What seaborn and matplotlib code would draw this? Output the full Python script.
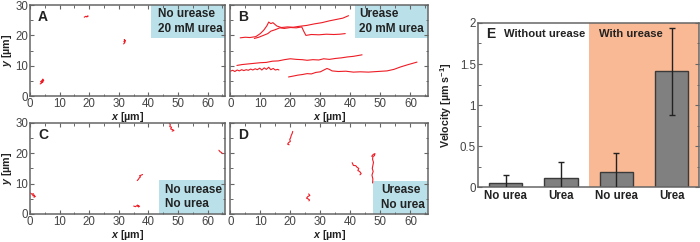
import matplotlib
matplotlib.use("Agg")
import matplotlib.pyplot as plt
from matplotlib.patches import Rectangle
from matplotlib.ticker import MultipleLocator
import seaborn as sns

# trajectories (x, y in um)
A_TRACKS = [
    ([3.4, 3.9, 3.6, 4.2, 3.8, 4.4, 4.1, 4.6, 4.3], [4.0, 4.3, 4.8, 4.5, 5.0, 4.7, 5.3, 5.1, 5.6]),
    ([18.3, 18.8, 19.2, 19.6, 19.1], [26.0, 26.3, 26.1, 26.4, 26.2]),
    ([31.6, 32.0, 31.7, 32.2, 31.8, 32.1], [17.2, 17.6, 18.0, 18.3, 18.6, 17.9]),
]
B_TRACKS = [
    ([3.3, 5.0, 6.5, 8.5, 10.0, 11.2, 12.2, 12.8, 13.5, 14.2, 15.5, 17.0, 19.0, 21.0, 23.0,
      25.5, 28.0, 30.5, 33.0, 35.5, 37.5, 39.4],
     [19.2, 19.4, 19.3, 19.6, 20.6, 21.8, 23.2, 24.4, 23.9, 24.2, 23.1, 22.6, 22.8, 22.7, 23.0,
      23.3, 23.8, 24.2, 24.8, 25.3, 25.7, 26.5]),
    ([8.0, 9.5, 11.0, 12.5, 13.5, 15.0, 16.5, 18.0, 20.0, 22.0, 23.8, 24.5, 25.2, 27.0, 29.5,
      32.0, 34.5, 36.5, 38.3],
     [19.0, 19.4, 20.0, 20.6, 21.4, 21.9, 22.5, 22.3, 22.6, 22.5, 22.8, 21.3, 20.0, 20.3, 20.2,
      20.4, 20.3, 20.4, 20.6]),
    ([2.2, 4.0, 6.0, 8.0, 10.0, 12.0, 14.0, 16.0, 18.0, 20.0, 22.0, 24.0, 25.6, 27.5, 29.5,
      31.1, 33.0, 35.0, 37.0, 39.0, 41.0, 43.9],
     [10.1, 10.4, 10.6, 10.8, 11.0, 11.1, 11.5, 11.6, 12.0, 12.3, 12.1, 12.0, 11.8, 12.0, 11.9,
      12.3, 12.1, 12.4, 12.6, 12.9, 13.1, 13.6]),
    ([0.0, 0.8, 1.5, 2.3, 3.0, 3.8, 4.5, 5.3, 6.0, 6.8, 7.5, 8.3, 9.0, 9.8, 10.5, 11.3, 12.0,
      12.8, 13.5, 14.3, 15.0, 15.8, 16.2],
     [8.2, 8.5, 8.1, 8.6, 8.3, 8.7, 8.4, 8.7, 8.5, 8.9, 8.6, 9.0, 8.7, 9.2, 8.6, 9.3, 8.8,
      9.5, 8.7, 9.1, 8.6, 8.8, 8.6]),
    ([19.4, 21.0, 22.5, 24.0, 25.6, 27.0, 28.5, 30.0, 31.2, 32.2, 33.0, 33.9, 36.0, 38.5, 41.0,
      43.3, 46.0, 49.0, 52.2, 54.5, 56.7, 59.0, 62.2],
     [6.3, 6.6, 6.9, 7.1, 7.4, 7.3, 7.8, 8.0, 8.6, 9.1, 8.8, 8.3, 8.1, 8.2, 7.9, 8.0, 7.9,
      8.1, 8.3, 8.8, 9.6, 10.3, 11.2]),
]
C_TRACKS = [
    ([0.1, 0.6, 1.1, 0.9, 1.5, 1.3, 1.8], [6.9, 6.5, 6.7, 6.0, 6.2, 5.5, 5.8]),
    ([36.2, 36.6, 36.9, 37.3, 37.0, 37.6, 38.0], [11.0, 11.4, 11.9, 12.2, 12.6, 12.8, 13.0]),
    ([35.0, 35.6, 36.2, 36.7, 36.3, 37.0], [2.6, 2.4, 2.8, 2.3, 2.9, 2.5]),
    ([47.0, 47.4, 47.2, 47.8, 47.5, 48.2, 48.6, 48.0], [30.0, 29.4, 28.8, 28.6, 28.0, 27.8, 27.5, 27.3]),
    ([63.8, 64.2, 64.6, 65.0], [21.0, 20.5, 20.3, 19.9]),
]
D_TRACKS = [
    ([20.8, 20.6, 20.3, 20.1, 19.8, 20.0, 19.4, 19.1, 19.6], [27.2, 26.5, 25.9, 25.1, 24.6, 23.9, 23.5, 23.0, 22.8]),
    ([26.1, 26.5, 25.8, 25.4, 26.0, 26.4, 26.2], [6.6, 6.1, 5.7, 5.2, 4.9, 4.6, 4.3]),
    ([40.6, 41.0, 41.8, 42.2, 42.8, 42.5, 43.1, 43.6, 43.2], [16.9, 16.0, 15.9, 15.4, 15.0, 14.3, 14.0, 13.3, 12.9]),
    ([47.1, 47.6, 48.2, 48.0, 47.5, 47.4, 47.7, 47.5, 47.3, 47.6, 47.2, 47.5, 47.4],
     [19.0, 19.6, 19.9, 19.2, 18.9, 18.0, 17.0, 16.0, 15.0, 14.0, 12.8, 11.5, 10.2]),
]

PANEL_LABELS = ["A", "B", "C", "D"]
CONDITION_TEXT = ["No urease\n20 mM urea", "Urease\n20 mM urea", "No urease\nNo urea", "Urease\nNo urea"]

BAR_KEYS = ["no_urease_no_urea", "no_urease_urea", "urease_no_urea", "urease_urea"]
BAR_TICKS = ["No urea", "Urea", "No urea", "Urea"]
VELOCITY = [0.05, 0.11, 0.18, 1.41]
VELOCITY_ERR = [0.10, 0.19, 0.24, 0.53]

RED = "#EE1C25"
BOX = "#BAE1EA"
SALMON = "#F9B994"
SPINE = "#666666"
TEXT = "#222222"

sns.set_theme(style="ticks")
plt.rcParams["font.family"] = ["Liberation Sans", "DejaVu Sans"]
plt.rcParams["mathtext.fontset"] = "custom"
plt.rcParams["mathtext.it"] = "Liberation Sans:italic:bold"
plt.rcParams["mathtext.rm"] = "Liberation Sans:bold"
plt.rcParams["mathtext.bf"] = "Liberation Sans:bold"


def style_axes(ax):
    for s in ax.spines.values():
        s.set_color(SPINE)
        s.set_linewidth(1.1)
    ax.tick_params(which="both", direction="in", top=True, right=True, color=SPINE,
                   labelsize=8.3, labelcolor="#444444", pad=1.5)
    ax.tick_params(which="major", length=3, width=0.8)
    ax.tick_params(which="minor", length=1.8, width=0.7)


fig = plt.figure(figsize=(7.0, 2.42), dpi=100)
track_axes = [
    fig.add_axes([0.043, 0.603, 0.279, 0.376]),
    fig.add_axes([0.329, 0.603, 0.283, 0.376]),
    fig.add_axes([0.043, 0.116, 0.279, 0.376]),
    fig.add_axes([0.329, 0.116, 0.283, 0.376]),
]
boxes = [(0.62, 0.64, 0.38, 0.36), (0.627, 0.64, 0.373, 0.36),
         (0.66, 0.0, 0.34, 0.37), (0.72, 0.0, 0.28, 0.36)]
text_x = [0.655, 0.65, 0.69, 0.76]

for i, (ax, tracks) in enumerate(zip(track_axes, [A_TRACKS, B_TRACKS, C_TRACKS, D_TRACKS])):
    x0, y0, w, h = boxes[i]
    ax.add_patch(Rectangle((x0, y0), w, h, transform=ax.transAxes, facecolor=BOX,
                           edgecolor="none", zorder=0))
    for xs, ys in tracks:
        sns.lineplot(x=xs, y=ys, sort=False, estimator=None, ax=ax, color=RED, lw=0.8)
    ax.set_xlim(0, 66)
    ax.set_ylim(0, 30)
    ax.xaxis.set_major_locator(MultipleLocator(10))
    ax.xaxis.set_minor_locator(MultipleLocator(5))
    ax.yaxis.set_major_locator(MultipleLocator(10))
    ax.yaxis.set_minor_locator(MultipleLocator(5))
    style_axes(ax)
    ax.set_xlabel("$x$ [µm]", fontsize=7.7, fontweight="bold", labelpad=0, color=TEXT)
    if i % 2 == 0:
        ax.set_ylabel("$y$ [µm]", fontsize=7.7, fontweight="bold", labelpad=1, color=TEXT)
    else:
        ax.set_yticklabels([])
        ax.set_ylabel("")
    ax.text(0.04, 0.87, PANEL_LABELS[i], transform=ax.transAxes, fontsize=10,
            fontweight="bold", va="center", ha="left", color=TEXT)
    ax.text(text_x[i], y0 + h / 2, CONDITION_TEXT[i], transform=ax.transAxes, fontsize=8.5,
            fontweight="bold", va="center", ha="left", linespacing=1.3, color=TEXT)

# velocity panel
axe = fig.add_axes([0.683, 0.227, 0.316, 0.678])
axe.axvspan(1.5, 3.5, color=SALMON, lw=0, zorder=0)
sns.barplot(x=BAR_KEYS, y=VELOCITY, order=BAR_KEYS, color="#808080", saturation=1,
            width=0.6, edgecolor="#3a3a3a", linewidth=1, ax=axe, zorder=2)
axe.errorbar(range(len(BAR_KEYS)), VELOCITY, yerr=VELOCITY_ERR, fmt="none",
             ecolor="#222222", elinewidth=1, capsize=2, capthick=1, zorder=3)
axe.set_xlim(-0.5, 3.5)
axe.set_ylim(0, 2)
axe.set_xticks(range(len(BAR_KEYS)))
axe.set_xticklabels(BAR_TICKS, fontsize=8.3, fontweight="bold", color=TEXT)
axe.yaxis.set_major_locator(MultipleLocator(0.5))
axe.yaxis.set_minor_locator(MultipleLocator(0.25))
axe.set_yticks([0, 0.5, 1, 1.5, 2])
axe.set_yticklabels(["0", "0.5", "1", "1.5", "2"])
style_axes(axe)
axe.tick_params(axis="x", which="both", top=False, bottom=False, pad=2, labelcolor=TEXT)
axe.set_xlabel("")
axe.set_ylabel("Velocity [µm s$^{-1}$]", fontsize=7.7, fontweight="bold", labelpad=4, color=TEXT)
axe.text(0.035, 0.93, "E", transform=axe.transAxes, fontsize=10, fontweight="bold",
         va="center", ha="left", color=TEXT)
axe.text(0.115, 0.93, "Without urease", transform=axe.transAxes, fontsize=8.1,
         fontweight="bold", va="center", ha="left", color=TEXT)
axe.text(0.545, 0.93, "With urease", transform=axe.transAxes, fontsize=8.1,
         fontweight="bold", va="center", ha="left", color=TEXT)

fig.savefig("out.png", dpi=100)
